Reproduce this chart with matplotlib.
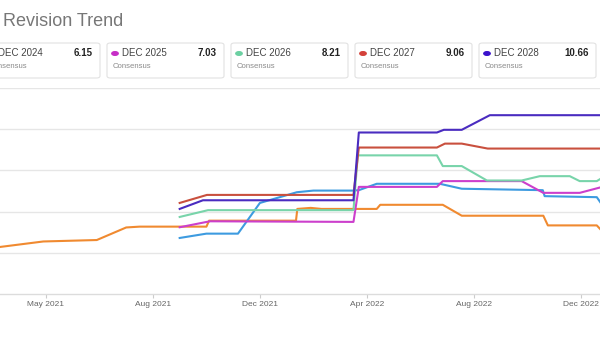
import matplotlib.pyplot as plt
from matplotlib.patches import FancyBboxPatch, Circle

# x = months counted so that Aug 2021 = 7, values = EPS estimate
card_names = ["DEC 2024", "DEC 2025", "DEC 2026", "DEC 2027", "DEC 2028"]
card_values = ["6.15", "7.03", "8.21", "9.06", "10.66"]
card_colors = ["#3d9be0", "#c62fc6", "#6cd0a2", "#d4423a", "#3a12cc"]

tick_pos = [3, 7, 11, 15, 19, 23]
tick_labels = ["May 2021", "Aug 2021", "Dec 2021", "Apr 2022", "Aug 2022", "Dec 2022"]

orange_x = [1.2, 2.9, 4.9, 6.0, 6.5, 9.0, 9.1, 12.35, 12.4, 12.9, 13.3, 15.37, 15.5, 17.84, 18.55, 21.6, 21.77, 23.6, 23.75]
orange_y = [4.27, 4.55, 4.62, 5.23, 5.27, 5.27, 5.56, 5.56, 6.13, 6.18, 6.13, 6.13, 6.33, 6.33, 5.80, 5.80, 5.33, 5.33, 5.12]

blue_x = [8.0, 9.0, 10.18, 11.0, 12.38, 13.0, 14.48, 14.7, 15.37, 17.73, 18.55, 21.58, 21.65, 23.6, 23.75]
blue_y = [4.72, 4.93, 4.93, 6.42, 6.94, 7.02, 7.02, 7.04, 7.35, 7.35, 7.11, 7.04, 6.75, 6.70, 6.42]

magenta_x = [8.0, 9.13, 14.5, 14.7, 17.62, 17.84, 20.79, 21.6, 22.96, 23.75]
magenta_y = [5.24, 5.53, 5.50, 7.20, 7.20, 7.48, 7.48, 6.91, 6.91, 7.18]

teal_x = [8.0, 9.06, 14.5, 14.66, 17.62, 17.84, 18.55, 19.49, 20.79, 21.47, 22.59, 22.96, 23.6, 23.75]
teal_y = [5.74, 6.07, 6.07, 8.73, 8.73, 8.21, 8.21, 7.51, 7.51, 7.72, 7.72, 7.48, 7.48, 7.60]

red_x = [8.0, 9.02, 14.5, 14.7, 17.62, 17.92, 18.55, 19.52, 23.75]
red_y = [6.42, 6.81, 6.81, 9.11, 9.11, 9.30, 9.30, 9.06, 9.06]

purple_x = [8.0, 8.87, 14.5, 14.7, 17.62, 17.88, 18.55, 19.6, 23.75]
purple_y = [6.13, 6.55, 6.55, 9.84, 9.84, 9.97, 9.97, 10.68, 10.68]

W, H = 600, 338
fig = plt.figure(figsize=(6, 3.38), dpi=100)
plt.rcParams['font.family'] = ['Liberation Sans', 'DejaVu Sans']


def fx(px):
    return px / W


def fy(py):
    return (H - py) / H


# title (left part of the screenshot is cut off)
fig.text(fx(3), fy(26), "Revision Trend", fontsize=13, color="#777777", va="baseline")

# estimate cards
for i in range(len(card_names)):
    left = -17 + 124 * i
    box = FancyBboxPatch((fx(left), fy(78)), fx(117), 35 / H,
                         boxstyle="round,pad=0,rounding_size=0.006",
                         transform=fig.transFigure, facecolor="white",
                         edgecolor="#e2e2e2", lw=0.8)
    fig.patches.append(box)
    dot = Circle((fx(left + 8), fy(53.5)), 3.2 / W, transform=fig.transFigure,
                 color=card_colors[i])
    fig.patches.append(dot)
    fig.text(fx(left + 15), fy(53.5), card_names[i], fontsize=7, color="#444444", va="center")
    fig.text(fx(left + 110), fy(53.5), card_values[i], fontsize=7, color="#222222",
             fontweight="bold", va="center", ha="right")
    fig.text(fx(left + 6), fy(67), "Consensus", fontsize=5.6, color="#8a8a8a", va="center")

ax = fig.add_axes([0, fy(294), 1, 206 / H])
ax.plot(orange_x, orange_y, color="#f08a30", lw=1.5, solid_joinstyle="round")
ax.plot(blue_x, blue_y, color="#3d9be0", lw=1.5, solid_joinstyle="round")
ax.plot(magenta_x, magenta_y, color="#cc3fcc", lw=1.5, solid_joinstyle="round")
ax.plot(teal_x, teal_y, color="#78d4aa", lw=1.5, solid_joinstyle="round")
ax.plot(red_x, red_y, color="#c9503e", lw=1.5, solid_joinstyle="round")
ax.plot(purple_x, purple_y, color="#4a2cc0", lw=1.5, solid_joinstyle="round")

ax.set_xlim(1.28, 23.72)
ax.set_ylim(2, 12)
ax.set_yticks([4, 6, 8, 10, 12])
ax.grid(axis="y", color="#e6e6e6", lw=1)
ax.set_axisbelow(True)
ax.tick_params(axis="y", left=False, labelleft=False)
ax.set_xticks(tick_pos)
ax.set_xticklabels(tick_labels)
ax.tick_params(axis="x", length=3, width=0.8, color="#cccccc", labelsize=6, labelcolor="#666666", pad=2)
for s in ["top", "left", "right"]:
    ax.spines[s].set_visible(False)
ax.spines["bottom"].set_color("#dcdcdc")
ax.spines["bottom"].set_linewidth(1)
ax.patch.set_alpha(0)

plt.savefig("out.png", dpi=100)
